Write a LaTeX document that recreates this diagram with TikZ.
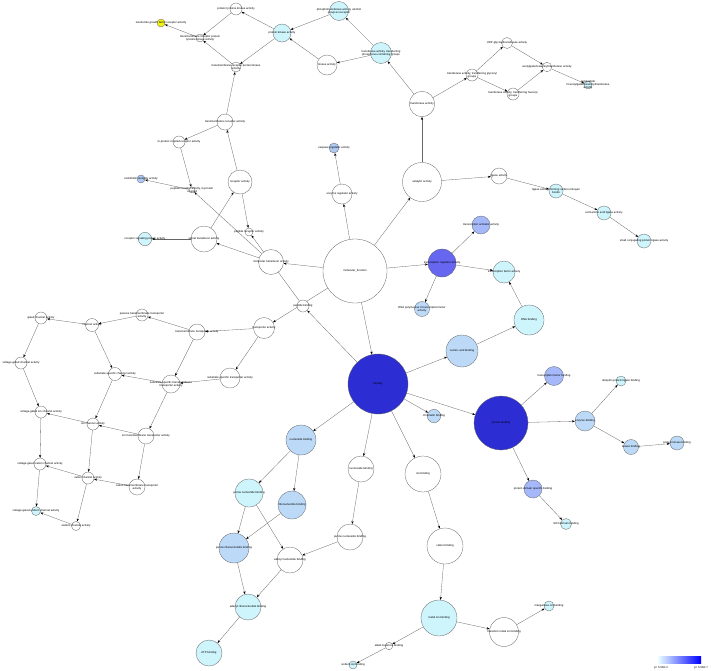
\documentclass[tikz,border=0pt]{standalone}
\usepackage{fontspec}
\setmainfont{Liberation Sans}
\usetikzlibrary{arrows.meta,backgrounds}
\definecolor{cW}{HTML}{FFFFFF}
\definecolor{cY}{HTML}{F2F21A}
\definecolor{cC}{HTML}{CEF4FC}
\definecolor{cL}{HTML}{BCDAF7}
\definecolor{cS}{HTML}{AEC9F1}
\definecolor{cM}{HTML}{A4B8FA}
\definecolor{cT}{HTML}{6666F0}
\definecolor{cD}{HTML}{2D2DD4}
\definecolor{edgec}{HTML}{666666}
\newcommand{\gonode}[6]{\node[gn, minimum size=#4*2pt, fill=#5, label={[lb]center:{#6}}] (#1) at (#2,#3) {};}
\begin{document}
\begin{tikzpicture}[x=1pt,y=-1pt,
  gn/.style={circle, draw=gray!75!black, line width=0.3pt, inner sep=0pt},
  lb/.style={font=\fontsize{2.8}{3.1}\selectfont, align=center, inner sep=0pt, text=black},
  ed/.style={draw=edgec, line width=0.3pt, -{Stealth[length=3pt,width=2.2pt,black]}}]
\useasboundingbox (0,0) rectangle (711,670);
% ---- top / kinase cluster
\gonode{igf}{161}{23}{4}{cY}{insulin-like growth factor receptor activity}
\gonode{trptk}{200}{38}{4}{cW}{transmembrane receptor protein\\tyrosine kinase activity}
\gonode{ptk}{236}{9}{6}{cW}{protein tyrosine kinase activity}
\gonode{pk}{282}{33}{9}{cC}{protein kinase activity}
\gonode{phos}{339}{11}{9.5}{cC}{phosphotransferase activity, alcohol\\group as acceptor}
\gonode{trpk}{236}{67}{5}{cW}{transmembrane receptor protein kinase\\activity}
\gonode{kin}{327}{65}{10}{cW}{kinase activity}
\gonode{trp}{381}{53}{10.5}{cC}{transferase activity, transferring\\phosphorus-containing groups}
\gonode{tra}{422}{104}{12.7}{cW}{transferase activity}
\gonode{tmr}{225}{122}{8}{cW}{transmembrane receptor activity}
\gonode{gpcr}{179}{142}{6}{cW}{G-protein coupled receptor activity}
\gonode{rec}{240}{182}{12}{cW}{receptor activity}
\gonode{prg}{192}{190}{3}{cW}{peptide receptor activity, G-protein\\coupled}
\gonode{endo}{141}{179}{4}{cS}{endothelin receptor activity}
\gonode{rsp}{145}{239}{6.7}{cC}{receptor signaling protein activity}
\gonode{st}{204}{239}{13}{cW}{signal transducer activity}
\gonode{pra}{249}{232}{4}{cW}{peptide receptor activity}
\gonode{mt}{271}{262}{12.5}{cW}{molecular transducer activity}
\gonode{mf}{355}{271}{32}{cW}{molecular\_function}
\gonode{er}{342}{194}{10}{cW}{enzyme regulator activity}
\gonode{cas}{334}{148}{5}{cS}{caspase regulator activity}
\gonode{cat}{422}{182}{19.5}{cW}{catalytic activity}
% ---- glycosyl
\gonode{gly}{472}{75}{6}{cW}{transferase activity, transferring glycosyl\\groups}
\gonode{udp}{507}{43}{5.5}{cW}{UDP-glycosyltransferase activity}
\gonode{agal}{547}{67}{4.7}{cW}{acetylgalactosaminyltransferase activity}
\gonode{hex}{513}{94}{6}{cW}{transferase activity, transferring hexosyl\\groups}
\gonode{poly}{588}{85}{4}{cC}{polypeptide\\N-acetylgalactosaminyltransferase\\activity}
% ---- ligase
\gonode{lig}{499}{176}{8}{cW}{ligase activity}
\gonode{lcn}{556}{191}{7}{cC}{ligase activity, forming carbon-nitrogen\\bonds}
\gonode{aal}{604}{213}{7}{cC}{acid-amino acid ligase activity}
\gonode{scp}{644}{241}{7}{cC}{small conjugating protein ligase activity}
% ---- transcription
\gonode{tr}{442}{263}{14}{cT}{transcription regulator activity}
\gonode{tact}{481}{225}{9}{cM}{transcription activator activity}
\gonode{rna}{422}{309}{7.5}{cL}{RNA polymerase II transcription factor\\activity}
\gonode{tfa}{504}{272}{11}{cC}{transcription factor activity}
\gonode{dna}{529}{320}{15}{cC}{DNA binding}
\gonode{nab}{462}{351}{16}{cL}{nucleic acid binding}
% ---- binding
\gonode{bind}{378}{384}{30}{cD}{binding}
\gonode{pb}{501}{423}{27}{cD}{protein binding}
\gonode{tfb}{554}{376}{9.5}{cM}{transcription factor binding}
\gonode{eb}{585}{421}{10}{cL}{enzyme binding}
\gonode{ubq}{621}{381}{5}{cC}{ubiquitin protein ligase binding}
\gonode{kb}{631}{447}{7.5}{cL}{kinase binding}
\gonode{pkb}{677}{443}{7}{cL}{protein kinase binding}
\gonode{pdsb}{533}{489}{9}{cM}{protein domain specific binding}
\gonode{sh3}{566}{524}{5.5}{cC}{SH3 domain binding}
\gonode{chr}{434}{416}{6.7}{cL}{chromatin binding}
\gonode{ntb}{301}{440}{15}{cL}{nucleotide binding}
\gonode{nsb}{361}{469}{13}{cW}{nucleoside binding}
\gonode{ion}{423}{474}{18}{cW}{ion binding}
\gonode{cab}{445}{546}{18}{cW}{cation binding}
\gonode{mib}{439}{618}{18}{cC}{metal ion binding}
\gonode{tmib}{504}{632}{14.5}{cW}{transition metal ion binding}
\gonode{mn}{549}{606}{5}{cC}{manganese ion binding}
\gonode{alk}{389}{646}{3.7}{cW}{alkali metal ion binding}
\gonode{na}{353}{665}{4}{cC}{sodium ion binding}
\gonode{pnt}{249}{493}{14}{cC}{purine nucleotide binding}
\gonode{rnt}{292}{505}{14}{cL}{ribonucleotide binding}
\gonode{prn}{234}{548}{15}{cL}{purine ribonucleotide binding}
\gonode{ant}{290}{560}{13}{cW}{adenyl nucleotide binding}
\gonode{pns}{350}{537}{13}{cW}{purine nucleoside binding}
\gonode{arn}{248}{607}{13}{cC}{adenyl ribonucleotide binding}
\gonode{atp}{209}{653}{13}{cC}{ATP binding}
% ---- transporters
\gonode{pep}{303}{306}{6}{cW}{peptide binding}
\gonode{tp}{264}{328}{10.5}{cW}{transporter activity}
\gonode{tt}{197}{332}{8}{cW}{transmembrane transporter activity}
\gonode{pas}{142}{315}{6}{cW}{passive transmembrane transporter\\activity}
\gonode{ch}{92}{325}{6.5}{cW}{channel activity}
\gonode{gch}{41}{318}{6}{cW}{gated channel activity}
\gonode{sst}{230}{378}{10}{cW}{substrate-specific transporter activity}
\gonode{sstt}{171}{384}{9}{cW}{substrate-specific transmembrane\\transporter activity}
\gonode{ssc}{115}{374}{6.5}{cW}{substrate-specific channel activity}
\gonode{vgc}{21}{363}{6}{cW}{voltage-gated channel activity}
\gonode{ich}{93}{424}{6}{cW}{ion channel activity}
\gonode{vgic}{41}{412}{6}{cW}{voltage-gated ion channel activity}
\gonode{itt}{146}{436}{8}{cW}{ion transmembrane transporter activity}
\gonode{cch}{88}{478}{6}{cW}{cation channel activity}
\gonode{vgcc}{40}{464}{6}{cW}{voltage-gated cation channel activity}
\gonode{ctt}{137}{487}{8}{cW}{cation transmembrane transporter\\activity}
\gonode{vgna}{36}{511}{4.5}{cC}{voltage-gated sodium channel activity}
\gonode{nach}{76}{526}{4.5}{cW}{sodium channel activity}
% ---- edges
\begin{scope}[on background layer]
\foreach \a/\b in {mf/cat, mf/er, mf/mt, mf/tp, mf/bind, mf/tr,
  er/cas, mt/st, st/rec, st/rsp, rec/tmr, rec/pra, tmr/gpcr, tmr/trpk,
  gpcr/prg, mt/prg, pep/pra, prg/endo, trpk/trptk, ptk/trptk, trptk/igf,
  pk/ptk, pk/trpk, phos/pk, kin/pk, trp/kin, trp/phos, tra/trp, tra/gly,
  cat/tra, cat/lig, gly/udp, gly/hex, udp/agal, hex/agal, agal/poly,
  lig/lcn, lcn/aal, aal/scp, tr/tact, tr/rna, tr/tfa, dna/tfa, nab/dna,
  bind/nab, bind/pb, bind/chr, bind/ntb, bind/nsb, bind/ion, bind/pep,
  pb/tfb, pb/eb, pb/pdsb, eb/ubq, eb/kb, kb/pkb, pdsb/sh3,
  ion/cab, cab/mib, mib/tmib, tmib/mn, mib/alk, alk/na,
  ntb/pnt, ntb/rnt, nsb/pns, pnt/prn, pnt/ant, rnt/prn, pns/ant,
  prn/arn, ant/arn, arn/atp,
  tp/sst, tp/tt, tt/pas, tt/sstt, pas/ch, ch/gch, ch/ssc, gch/vgc,
  sst/sstt, sstt/ssc, sstt/itt, ssc/ich, vgc/vgic, ich/vgic, ich/cch,
  itt/ich, itt/ctt, vgic/vgcc, cch/vgcc, cch/nach, ctt/cch, vgcc/vgna, nach/vgna}
  {\draw[ed] (\a) -- (\b);}
\end{scope}
% ---- legend
\shade[left color=cyan!8, right color=blue] (658,656) rectangle (701,663);
\node[lb] (lg1) at (661,667.5) {p= 5.00E-2};
\node[lb] (lg2) at (701,667.5) {p< 5.00E-7};
\end{tikzpicture}
\end{document}
